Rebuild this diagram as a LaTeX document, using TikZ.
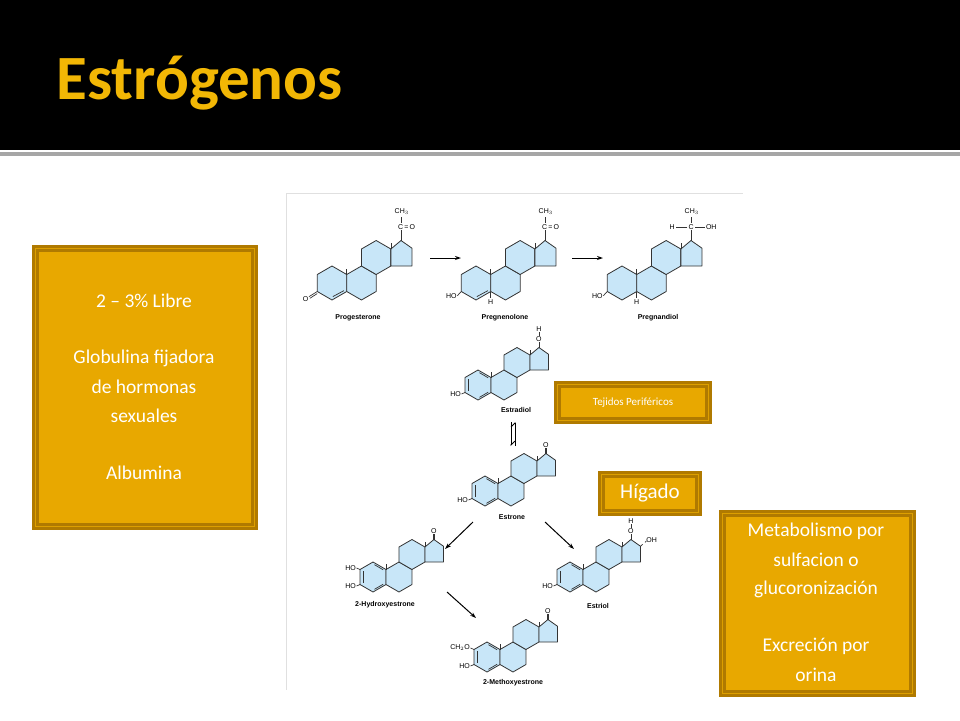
\documentclass[tikz,border=0pt]{standalone}
\usepackage{fontspec}
\setmainfont{Carlito}
\newfontfamily\chemf{Liberation Sans}
\definecolor{gold}{HTML}{E8A800}
\definecolor{goldd}{HTML}{B07A00}
\definecolor{titleg}{HTML}{F2B705}
\definecolor{ringb}{HTML}{C8E6F8}
\tikzset{
 ring/.style={fill=ringb,draw=black!80,line width=0.8pt,line join=round},
 bnd/.style={draw=black!80,line width=0.7pt},
 ch/.style={font=\chemf\fontsize{7}{7}\selectfont,inner sep=0.5pt},
 lab/.style={font=\chemf\bfseries\fontsize{7}{8}\selectfont},
 gbox/.style={fill=gold,draw=goldd,line width=3pt,double=gold!80!goldd,double distance=0.6pt},
 gtext/.style={text=white,align=center,font=\fontsize{19.5}{20}\selectfont},
 arr/.style={-{Stealth[length=6pt,width=4pt]},line width=1pt},
}
\usetikzlibrary{arrows.meta}
\newcommand\steroid[4]{\begin{scope}[shift={(#1,#2)},x=#3pt,y={(0pt,#3pt)}]
 \draw[ring] (30:1)--(90:1)--(150:1)--(210:1)--(270:1)--(330:1)--cycle;
 \draw[ring,shift={(1.732,0)}] (30:1)--(90:1)--(150:1)--(210:1)--(270:1)--(330:1)--cycle;
 \draw[ring,shift={(2.598,1.5)}] (30:1)--(90:1)--(150:1)--(210:1)--(270:1)--(330:1)--cycle;
 \draw[ring] (3.464,2)--(4.06,2.5)--(4.7,2.05)--(4.7,1)--(3.464,1)--cycle;
 \draw[bnd] (0.866,0.5)--(0.866,0.85);
 \draw[bnd] (3.464,2)--(3.464,2.35);
 #4
\end{scope}}
\newcommand\arom{\draw[bnd] (-0.62,0.4)--(-0.62,-0.4); \draw[bnd] (0.1,0.82)--(0.68,0.48); \draw[bnd] (0.1,-0.82)--(0.68,-0.48);}
\begin{document}
\begin{tikzpicture}[x=1pt,y=-1pt]
\useasboundingbox (0,0) rectangle (960,720);
\fill[black] (0,0) rectangle (960,150);
\fill[black!35] (0,152) rectangle (960,156);
\node[font=\bfseries\fontsize{63}{63}\selectfont,text=titleg,anchor=west] (title) at (53,83) {Estrógenos};
\draw[black!12,line width=1pt] (286,193)--(743,193);
\draw[black!12,line width=1pt] (286,193)--(286,690);
% molecules
\steroid{332}{283}{17}{\draw[bnd] (-0.866,-0.5)--(-1.35,-0.8); \draw[bnd] (-0.866,-0.62)--(-1.3,-0.9);
 \node[ch] at (-1.55,-0.95) {O}; \draw[bnd] (0.05,-0.8)--(0.7,-0.45);
 \draw[bnd] (4.06,2.5)--(4.06,3.1); \node[ch,anchor=west] at (3.85,3.3) {C\,=\,O}; \draw[bnd](4.06,3.55)--(4.06,3.9); \node[ch] at (4.1,4.2) {CH$_3$};}
\steroid{476}{283}{17}{\node[ch,anchor=east] (ho1) at (-1.1,-0.75) {HO}; \draw[bnd] (-0.866,-0.5)--(ho1.east);
 \draw[bnd] (0.05,-0.8)--(0.7,-0.45); \draw[bnd] (0.866,-0.5)--(0.866,-0.9); \node[ch] at (0.866,-1.1) {H};
 \draw[bnd] (4.06,2.5)--(4.06,3.1); \node[ch,anchor=west] at (3.85,3.3) {C\,=\,O}; \draw[bnd](4.06,3.55)--(4.06,3.9); \node[ch] at (4.1,4.2) {CH$_3$};}
\steroid{622}{283}{17}{\node[ch,anchor=east] (ho2) at (-1.1,-0.75) {HO}; \draw[bnd] (-0.866,-0.5)--(ho2.east);
 \draw[bnd] (0.866,-0.5)--(0.866,-0.9); \node[ch] at (0.866,-1.1) {H};
 \draw[bnd] (4.06,2.5)--(4.06,3.1); \node[ch] at (4.06,3.3) {C}; \draw[bnd] (3.85,3.3)--(3.2,3.3); \node[ch] at (2.95,3.3) {H};
 \draw[bnd] (4.3,3.3)--(4.9,3.3); \node[ch] at (5.25,3.3) {OH}; \draw[bnd](4.06,3.55)--(4.06,3.9); \node[ch] at (4.1,4.2) {CH$_3$};}
\steroid{478}{385}{15}{\arom \node[ch,anchor=east] (ho3) at (-1.1,-0.6) {HO}; \draw[bnd] (-0.866,-0.5)--(ho3.east);
 \draw[bnd] (4.06,2.5)--(4.06,2.85); \node[ch] at (4.06,3.05) {O}; \draw[bnd] (4.06,3.25)--(4.06,3.55); \node[ch] at (4.06,3.75) {H};}
\steroid{485}{491}{15}{\arom \node[ch,anchor=east] (ho4) at (-1.1,-0.6) {HO}; \draw[bnd] (-0.866,-0.5)--(ho4.east);
 \draw[bnd] (4.0,2.5)--(4.0,2.85); \draw[bnd] (4.12,2.5)--(4.12,2.85); \node[ch] at (4.06,3.05) {O};}
\steroid{373}{577}{15}{\arom \node[ch,anchor=east] (ho5) at (-1.1,-0.6) {HO}; \draw[bnd] (-0.866,-0.5)--(ho5.east);
 \node[ch,anchor=east] (ho6) at (-1.1,0.6) {HO}; \draw[bnd] (-0.866,0.5)--(ho6.east);
 \draw[bnd] (4.0,2.5)--(4.0,2.85); \draw[bnd] (4.12,2.5)--(4.12,2.85); \node[ch] at (4.06,3.05) {O};}
\steroid{570}{577}{15}{\arom \node[ch,anchor=east] (ho7) at (-1.1,-0.6) {HO}; \draw[bnd] (-0.866,-0.5)--(ho7.east);
 \draw[bnd] (4.06,2.5)--(4.06,2.85); \node[ch] at (4.06,3.05) {O}; \draw[bnd] (4.06,3.25)--(4.06,3.55); \node[ch] at (4.06,3.75) {H};
 \draw[bnd,dashed] (4.7,2.05)--(5.1,2.4); \node[ch,anchor=west] at (5.05,2.45) {OH};}
\steroid{487}{657}{15}{\arom \node[ch,anchor=east] (ho8) at (-1.1,-0.6) {HO}; \draw[bnd] (-0.866,-0.5)--(ho8.east);
 \node[ch,anchor=east] (ch8) at (-1.1,0.6) {CH$_2$O}; \draw[bnd] (-0.866,0.5)--(ch8.east);
 \draw[bnd] (4.0,2.5)--(4.0,2.85); \draw[bnd] (4.12,2.5)--(4.12,2.85); \node[ch] at (4.06,3.05) {O};}
% labels
\node[lab] (l1) at (358,318) {Progesterone};
\node[lab] (l2) at (505,318) {Pregnenolone};
\node[lab] (l3) at (658,318) {Pregnandiol};
\node[lab] (l4) at (516,410) {Estradiol};
\node[lab] (l5) at (512,517) {Estrone};
\node[lab] (l6) at (385,605) {2-Hydroxyestrone};
\node[lab] (l7) at (598,606) {Estriol};
\node[lab] (l8) at (513,683) {2-Methoxyestrone};
% arrows
\coordinate (a1) at (430,258); \coordinate (a2) at (461,258);
\coordinate (a3) at (572,258); \coordinate (a4) at (603,258);
\draw[arr] (a1)--(a2); \draw[arr] (a3)--(a4);
\coordinate (b1) at (511,422); \coordinate (b2) at (511,446);
\coordinate (b3) at (515,446); \coordinate (b4) at (515,422);
\draw[line width=0.8pt,-{Straight Barb[left,length=4pt]}] (b1)--(b2);
\draw[line width=0.8pt,-{Straight Barb[left,length=4pt]}] (b3)--(b4);
\coordinate (c1) at (473,522); \coordinate (c2) at (445,549);
\coordinate (c3) at (545,522); \coordinate (c4) at (574,549);
\coordinate (c5) at (447,592); \coordinate (c6) at (476,618);
\draw[arr] (c1)--(c2); \draw[arr] (c3)--(c4); \draw[arr] (c5)--(c6);
% boxes
\node[gbox,minimum width=219pt,minimum height=278pt,anchor=north west] (left) at (34,247) {};
\node[gtext] at (144,301) {2 – 3\% Libre};
\node[gtext] at (144,358) {Globulina fijadora};
\node[gtext] at (144,387) {de hormonas};
\node[gtext] at (144,416) {sexuales};
\node[gtext] at (144,473) {Albumina};
\node[gbox,minimum width=151pt,minimum height=36pt,anchor=north west] (tej) at (556,383) {};
\node[gtext,font=\fontsize{11}{12}\selectfont] at (tej.center) {Tejidos Periféricos};
\node[gbox,minimum width=97pt,minimum height=38pt,anchor=north west] (hig) at (600,473) {};
\node[gtext,font=\fontsize{21}{22}\selectfont] at (hig.center) {Hígado};
\node[gbox,minimum width=190pt,minimum height=180pt,anchor=north west] (right) at (721,512) {};
\node[gtext] at (816,531) {Metabolismo por};
\node[gtext] at (816,560) {sulfacion o};
\node[gtext] at (816,589) {glucoronización};
\node[gtext] at (816,646) {Excreción por};
\node[gtext] at (816,675) {orina};
\end{tikzpicture}
\end{document}
